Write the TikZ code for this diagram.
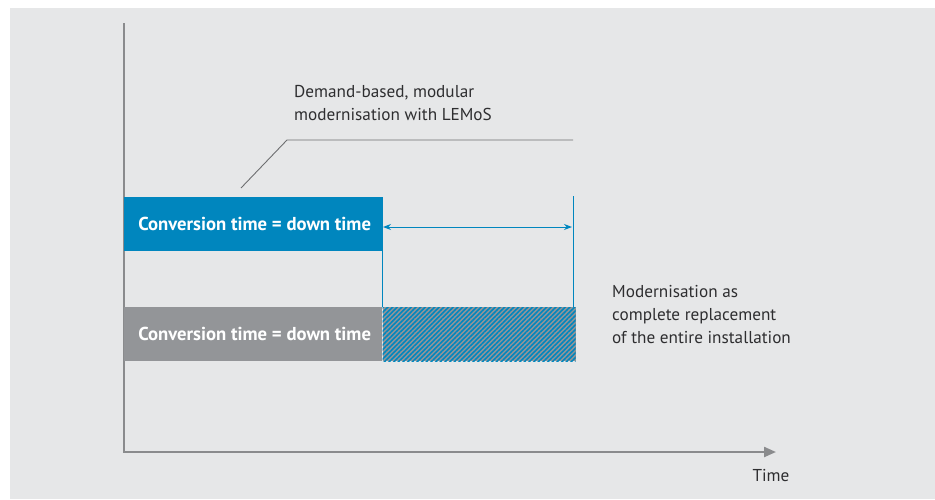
\documentclass[tikz,border=0pt]{standalone}
\usepackage{fontspec}
\setmainfont{PT Sans}
\usetikzlibrary{patterns.meta,arrows.meta}
\definecolor{bgc}{HTML}{E6E7E8}
\definecolor{lblue}{HTML}{0086BE}
\definecolor{lgray}{HTML}{939598}
\definecolor{axc}{HTML}{8A8B8D}
\definecolor{txt}{HTML}{2E2E30}
\definecolor{leadc}{HTML}{6D6E70}
\tikzset{
  axisline/.style={draw=axc, line width=2.2pt},
  barbox/.style={anchor=north west, minimum width=258, minimum height=54, inner sep=0pt, text=white, font=\bfseries\fontsize{18.7}{22}\selectfont},
  bluebar/.style={barbox, fill=lblue},
  graybar/.style={barbox, fill=lgray},
  hatchbox/.style={anchor=north west, minimum width=193, minimum height=54, inner sep=0pt,
     fill=lgray, postaction={pattern={Lines[angle=45,distance=3.3pt,line width=1.6pt]}, pattern color=lblue}},
  markline/.style={draw=lblue, line width=1pt},
  leader/.style={draw=leadc, line width=0.9pt},
  label/.style={anchor=north west, inner sep=0pt, text=txt, align=left, font=\fontsize{17.2}{23}\selectfont},
}
\begin{document}
\begin{tikzpicture}[x=1pt,y=-1pt]
\useasboundingbox (0,0) rectangle (935,499);
\fill[white] (0,0) rectangle (935,499);
\fill[bgc] (10,8) rectangle (935,499);
% axes
\coordinate (ytop) at (124,23);
\coordinate (orig) at (124,452);
\coordinate (xend) at (776,452);
\draw[axisline, -{Triangle[length=12pt,width=10pt]}] (ytop) -- (orig) -- (xend);
\node[anchor=north, inner sep=0pt, text=txt, font=\fontsize{17.2}{23}\selectfont] (time) at (771,469) {Time};
% bars
\node[bluebar] (b1) at (124,197) {\hspace{3pt}Conversion time = down time};
\node[graybar] (g1) at (124,307) {\hspace{3pt}Conversion time = down time};
\node[hatchbox] (h1) at (g1.north east) {};
% markers
\coordinate (r1) at (573,196);
\coordinate (r2) at (573,307);
\draw[markline] (b1.north east) -- (g1.north east);
\draw[markline] (r1) -- (r2);
\coordinate (a1) at (383,227);
\coordinate (a2) at (572,227);
\draw[markline, {Stealth[length=8pt,width=6pt]}-{Stealth[length=8pt,width=6pt]}] (a1) -- (a2);
% leader
\coordinate (l1) at (241,188);
\coordinate (l2) at (287,140);
\coordinate (l3) at (573,140);
\draw[leader] (l1) -- (l2) -- (l3);
\node[label] (t1) at (294,85) {Demand-based, modular\\modernisation with LEMoS};
\node[label] (t2) at (612,285) {Modernisation as\\complete replacement\\of the entire installation};
\end{tikzpicture}
\end{document}
